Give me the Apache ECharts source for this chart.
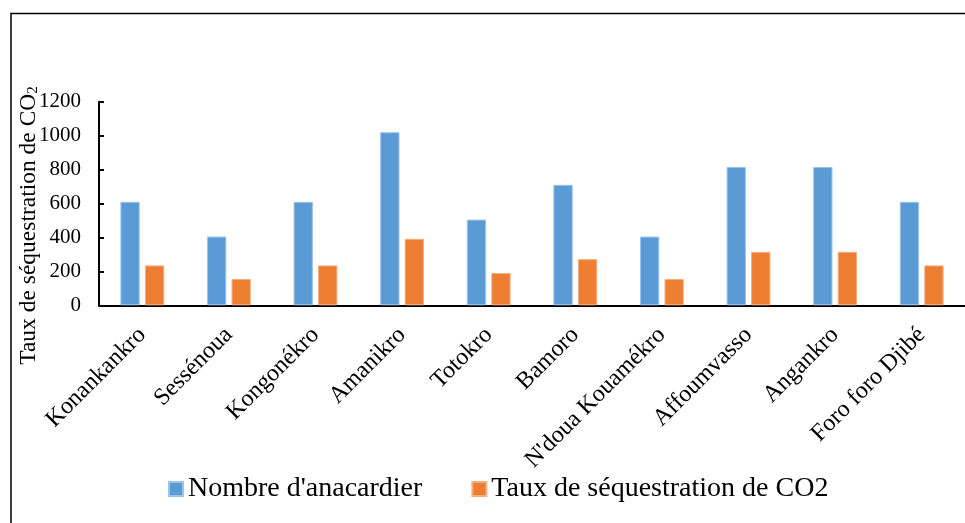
<!DOCTYPE html>
<html>
<head>
<meta charset="utf-8">
<script src="https://cdn.jsdelivr.net/npm/echarts@6/dist/echarts.min.js"></script>
<style>
html,body{margin:0;padding:0;background:#fff;}
#chart{width:965px;height:523px;}
</style>
</head>
<body>
<div id="chart"></div>
<script>
const categories = ["Konankankro","Sessénoua","Kongonékro","Amanikro","Totokro","Bamoro","N'doua Kouamékro","Affoumvasso","Angankro","Foro foro Djibé"];
const nombreAnacardier = [610, 405, 610, 1020, 505, 710, 405, 815, 815, 610];
const tauxCO2 = [235, 155, 235, 392, 190, 272, 155, 315, 315, 235];
const yTicks = {min: 0, max: 1200, interval: 200};
const seriesNames = ["Nombre d'anacardier", "Taux de séquestration de CO2"];

const FONT = "'Liberation Serif', 'Times New Roman', serif";
const chart = echarts.init(document.getElementById('chart'));
chart.setOption({
  animation: false,
  backgroundColor: '#fff',
  textStyle: {fontFamily: FONT, color: '#000'},
  graphic: [{
    type: 'rect',
    shape: {x: 11, y: 13.5, width: 1200, height: 1000},
    style: {fill: 'none', stroke: '#000', lineWidth: 1.5},
    silent: true
  }],
  grid: {left: 99, top: 101.7, right: 0, bottom: 217.7, outerBoundsMode: 'none', containLabel: false},
  legend: {
    left: 163, top: 470,
    itemWidth: 14, itemHeight: 14, itemGap: 49,
    icon: 'rect',
    textStyle: {fontFamily: FONT, fontSize: 28, color: '#000'},
    data: seriesNames
  },
  xAxis: {
    type: 'category',
    data: categories,
    axisLine: {lineStyle: {color: '#000', width: 2}},
    axisTick: {inside: true, length: 5, lineStyle: {color: '#000', width: 2}},
    axisLabel: {interval: 0, rotate: 45, fontFamily: FONT, fontSize: 24, color: '#000', margin: 26}
  },
  yAxis: {
    type: 'value',
    min: yTicks.min, max: yTicks.max, interval: yTicks.interval,
    splitLine: {show: false},
    axisLine: {show: true, lineStyle: {color: '#000', width: 2}},
    axisTick: {show: true, inside: true, length: 5, lineStyle: {color: '#000', width: 2}},
    axisLabel: {fontFamily: FONT, fontSize: 21, color: '#000', margin: 18, formatter: function (v) { return String(v); }},
    name: '{a|Taux de séquestration de CO}{s|2}',
    nameLocation: 'middle',
    nameGap: 58,
    nameMoveOverlap: false,
    nameTextStyle: {
      padding: [0, 44, 0, 0],
      rich: {
        a: {fontFamily: FONT, fontSize: 23.5, color: '#000'},
        s: {fontFamily: FONT, fontSize: 15, color: '#000', verticalAlign: 'bottom', padding: [9, 0, 0, 0]}
      }
    }
  },
  series: [
    {
      name: seriesNames[0], type: 'bar', data: nombreAnacardier,
      barWidth: 19.3, barGap: '27%',
      itemStyle: {color: '#5B9BD5', borderColor: '#9CC3E8', borderWidth: 1}
    },
    {
      name: seriesNames[1], type: 'bar', data: tauxCO2,
      barWidth: 19.3, barGap: '27%',
      itemStyle: {color: '#ED7D31', borderColor: '#F5AE80', borderWidth: 1}
    }
  ]
});
</script>
</body>
</html>
